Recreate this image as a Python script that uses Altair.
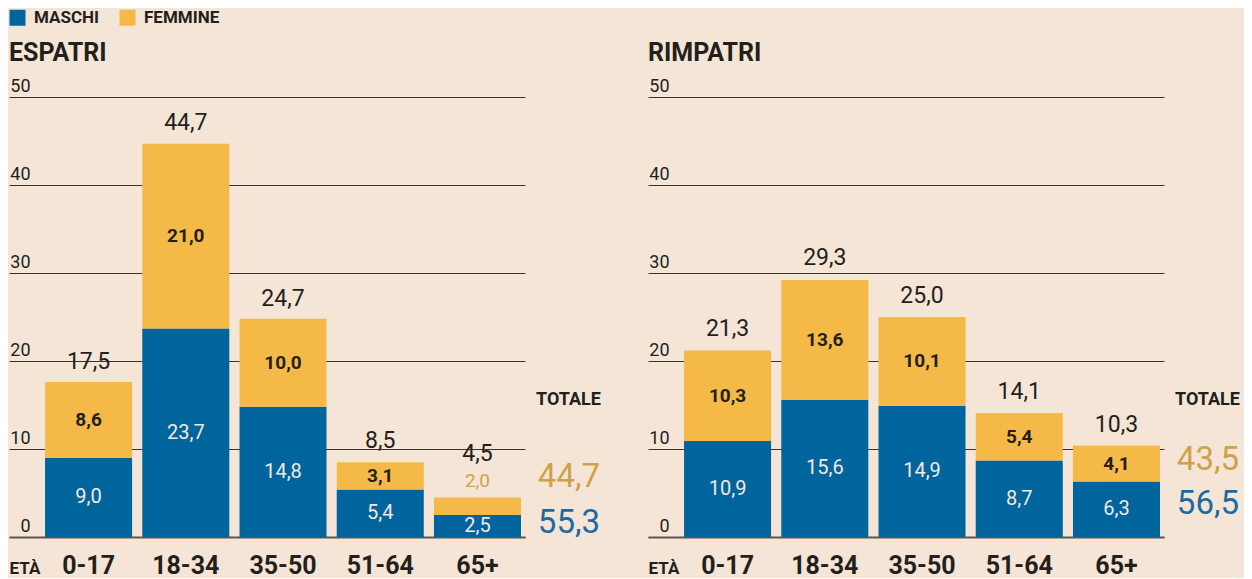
import altair as alt
import pandas as pd

# ---------------- data ----------------
ages = ["0-17", "18-34", "35-50", "51-64", "65+"]
sexes = ["MASCHI", "FEMMINE"]

esp_maschi = [9.0, 23.7, 14.8, 5.4, 2.5]
esp_femmine = [8.6, 21.0, 10.0, 3.1, 2.0]
esp_totale = [17.5, 44.7, 24.7, 8.5, 4.5]

rim_maschi = [10.9, 15.6, 14.9, 8.7, 6.3]
rim_femmine = [10.3, 13.6, 10.1, 5.4, 4.1]
rim_totale = [21.3, 29.3, 25.0, 14.1, 10.3]

esp_share = [55.3, 44.7]   # maschi, femmine (%)
rim_share = [56.5, 43.5]

y_ticks = [0, 10, 20, 30, 40, 50]

# ---------------- style ----------------
BG = "#F5E5D6"
BLUE = "#00659D"
GOLD = "#F5B947"
GOLD_TXT = "#CFA14A"
BLUE_TXT = "#1A6BA5"
DARK = "#231F1C"
LIGHT = "#F3E9E1"
FONT = "Roboto"

H = 440
W = 516
PX_PER_UNIT = H / 50.0


def fmt(v):
    return f"{v:.1f}".replace(".", ",")


def panel_frames(maschi, femmine, totale):
    rows = []
    for i, a in enumerate(ages):
        m, f = maschi[i], femmine[i]
        small = f * PX_PER_UNIT < 22
        rows.append(dict(age=a, sex="MASCHI", ord=0, value=m, mid=m / 2,
                         top=m, label=fmt(m), small=False))
        rows.append(dict(age=a, sex="FEMMINE", ord=1, value=f, mid=m + f / 2,
                         top=m + f, label=fmt(f), small=bool(small)))
    bars = pd.DataFrame(rows)
    tots = pd.DataFrame(dict(
        age=ages,
        total=totale,
        label=[fmt(t) for t in totale],
        lifted=[bool(f * PX_PER_UNIT < 22) for f in femmine],
    ))
    return bars, tots


yscale = alt.Scale(domain=[0, 50], nice=False, zero=True)
yaxis = alt.Axis(
    values=y_ticks, grid=True, gridColor="#3B332C", gridWidth=1,
    gridOpacity=1, domain=False, ticks=False, tickSize=0,
    labelAlign="right", labelPadding=-21, labelBaseline="alphabetic",
    labelOffset=-6, labelFont=FONT, labelFontSize=18, labelColor=DARK,
    title=None,
)


def Y(field):
    return alt.Y(field, stack=None if field != "value:Q" else "zero",
                 scale=yscale, axis=yaxis)


def make_panel(title, maschi, femmine, totale, share):
    bars, tots = panel_frames(maschi, femmine, totale)

    x = alt.X(
        "age:N", sort=ages,
        scale=alt.Scale(domain=ages, paddingInner=0.105, paddingOuter=0.206, align=0.9),
        axis=alt.Axis(
            title="ETÀ", labelAngle=0, labelFont=FONT, labelFontSize=25,
            labelFontWeight="bold", labelColor=DARK, labelPadding=36,
            labelBaseline="alphabetic", ticks=False, tickSize=0,
            domain=True, domainColor="#5E554D", domainWidth=2,
            titleX=0, titleY=36, titleAlign="left", titleBaseline="alphabetic",
            titleFont=FONT, titleFontSize=17, titleFontWeight="bold",
            titleColor=DARK, titleAngle=0,
        ),
    )

    base = alt.Chart(bars)
    bar = base.mark_bar(stroke=None).encode(
        x=x,
        y=Y("value:Q"),
        color=alt.Color(
            "sex:N",
            scale=alt.Scale(domain=sexes, range=[BLUE, GOLD]),
            legend=alt.Legend(
                orient="none", legendX=0, legendY=-88, direction="horizontal",
                title=None, symbolType="square", symbolSize=256,
                symbolStrokeWidth=0, symbolOpacity=1, labelFont=FONT,
                labelFontSize=17, labelFontWeight="bold", labelColor=DARK,
                labelOffset=8, columnPadding=19, padding=0,
            ),
        ),
        order=alt.Order("ord:Q", sort="ascending"),
    )

    lab_m = base.transform_filter("datum.sex == 'MASCHI'").mark_text(
        font=FONT, fontSize=20, color=LIGHT, baseline="middle"
    ).encode(x=x, y=Y("mid:Q"), text="label:N")
    lab_f = base.transform_filter("datum.sex == 'FEMMINE' && !datum.small").mark_text(
        font=FONT, fontSize=19, fontWeight="bold", color=DARK, baseline="middle"
    ).encode(x=x, y=Y("mid:Q"), text="label:N")
    lab_f_out = base.transform_filter("datum.sex == 'FEMMINE' && datum.small").mark_text(
        font=FONT, fontSize=19, color=GOLD_TXT, baseline="alphabetic", dy=-10
    ).encode(x=x, y=Y("top:Q"), text="label:N")

    tbase = alt.Chart(tots)
    lab_t = tbase.transform_filter("!datum.lifted").mark_text(
        font=FONT, fontSize=23, color=DARK, baseline="alphabetic", dy=-14
    ).encode(x=x, y=Y("total:Q"), text="label:N")
    lab_t2 = tbase.transform_filter("datum.lifted").mark_text(
        font=FONT, fontSize=23, color=DARK, baseline="alphabetic", dy=-36
    ).encode(x=x, y=Y("total:Q"), text="label:N")

    share_df = pd.DataFrame(dict(
        kind=["title", "head", "fem", "mas"],
        text=[title, "TOTALE", fmt(share[1]), fmt(share[0])],
    ))
    sbase = alt.Chart(share_df)
    if title == "ESPATRI":
        y_fem, y_mas = 390, 436
    else:
        y_fem, y_mas = 373, 417
    ttl = sbase.transform_filter("datum.kind == 'title'").mark_text(
        font=FONT, fontSize=25, fontWeight="bold", color=DARK,
        align="left", baseline="alphabetic"
    ).encode(x=alt.value(0), y=alt.value(-36), text="text:N")
    head = sbase.transform_filter("datum.kind == 'head'").mark_text(
        font=FONT, fontSize=18, fontWeight="bold", color=DARK,
        align="right", baseline="alphabetic"
    ).encode(x=alt.value(592), y=alt.value(308), text="text:N")
    fem = sbase.transform_filter("datum.kind == 'fem'").mark_text(
        font=FONT, fontSize=33, color=GOLD_TXT, align="right", baseline="alphabetic"
    ).encode(x=alt.value(591), y=alt.value(y_fem), text="text:N")
    mas = sbase.transform_filter("datum.kind == 'mas'").mark_text(
        font=FONT, fontSize=33, color=BLUE_TXT, align="right", baseline="alphabetic"
    ).encode(x=alt.value(591), y=alt.value(y_mas), text="text:N")

    return alt.layer(bar, lab_m, lab_f, lab_f_out, lab_t, lab_t2,
                     ttl, head, fem, mas).properties(width=W, height=H)


left = make_panel("ESPATRI", esp_maschi, esp_femmine, esp_totale, esp_share)
right = make_panel("RIMPATRI", rim_maschi, rim_femmine, rim_totale, rim_share)

chart = alt.hconcat(left, right, spacing=123, bounds="flush").properties(
    background=BG,
    padding={"left": 1, "top": 1, "right": 4, "bottom": 0},
).configure_view(stroke=None)

chart.save("out.html", embed_options={"renderer": "svg", "actions": False})
